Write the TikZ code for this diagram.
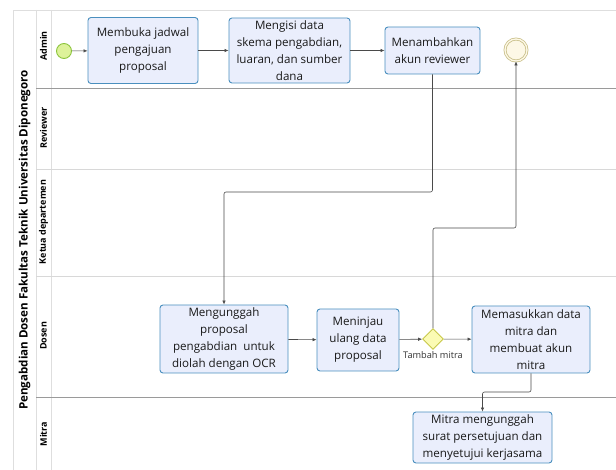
\documentclass[tikz,border=0pt]{standalone}
\usepackage{fontspec}
\setmainfont{Open Sans}
\usetikzlibrary{arrows.meta,shapes.geometric}
\definecolor{taskfill}{HTML}{EAEEFC}
\definecolor{taskborder}{HTML}{4A8FBE}
\definecolor{poolline}{HTML}{DEDEDE}
\definecolor{lanedark}{HTML}{9A9A9A}
\definecolor{lanelight}{HTML}{D8D8D8}
\definecolor{flowcol}{HTML}{4A4A4A}
\definecolor{startfill}{HTML}{DDF29A}
\definecolor{startline}{HTML}{8CC43C}
\definecolor{endfill}{HTML}{FDF8E6}
\definecolor{endline}{HTML}{C9C08A}
\definecolor{gwfill}{HTML}{FBFBB4}
\definecolor{gwline}{HTML}{C8C84A}
\tikzset{
  task/.style={draw=taskborder, fill=taskfill, rounded corners=3pt, line width=0.9pt,
    align=center, inner sep=1pt, text=black!90,
    font=\fontsize{11.6}{17}\selectfont},
  startev/.style={circle, draw=startline, fill=startfill, line width=0.9pt, minimum size=15pt, inner sep=0pt},
  endev/.style={circle, draw=endline, fill=endfill, double=endfill, double distance=1.3pt, line width=0.8pt, minimum size=22pt, inner sep=0pt},
  gateway/.style={diamond, draw=gwline, fill=gwfill, line width=0.9pt, minimum size=21pt, inner sep=0pt},
  flow/.style={draw=flowcol, line width=0.6pt, -{Latex[length=4pt,width=3.5pt]}, rounded corners=2pt},
  lanelabel/.style={rotate=90, font=\bfseries\fontsize{9}{10}\selectfont},
  pooltitle/.style={rotate=90, font=\bfseries\fontsize{11.6}{13}\selectfont},
  gwlabel/.style={font=\fontsize{9.2}{10}\selectfont, text=black!80}
}
\begin{document}
\begin{tikzpicture}[x=1pt,y=-1pt]
\useasboundingbox (0,0) rectangle (616,470);
% pool frame
\draw[poolline, line width=0.8pt] (616,10) -- (13,10) -- (13,470);
\draw[poolline, line width=0.8pt] (36,10) -- (36,470);
\draw[poolline, line width=0.8pt] (51,10) -- (51,470);
% lane dividers
\draw[lanedark, line width=0.8pt] (36,88) -- (616,88);
\draw[lanelight, line width=0.8pt] (36,169) -- (616,169);
\draw[lanelight, line width=0.8pt] (36,276) -- (616,276);
\draw[lanedark, line width=0.8pt] (36,397) -- (616,397);
% titles
\node[pooltitle] (pool) at (24.5,240) {Pengabdian Dosen Fakultas Teknik Universitas Diponegoro};
\node[lanelabel] (lAdmin) at (43.5,46) {Admin};
\node[lanelabel] (lRev) at (43.5,128) {Reviewer};
\node[lanelabel] (lKetua) at (43.5,222) {Ketua departemen};
\node[lanelabel] (lDosen) at (43.5,336) {Dosen};
\node[lanelabel] (lMitra) at (43.5,434) {Mitra};
% events and tasks
\node[startev] (start) at (64,51) {};
\node[task, minimum width=110pt, minimum height=66pt] (t1) at (143,50.5) {Membuka jadwal\\pengajuan\\proposal};
\node[task, minimum width=121pt, minimum height=65pt] (t2) at (289.5,50.5) {Mengisi data\\skema pengabdian,\\luaran, dan sumber\\dana};
\node[task, minimum width=95pt, minimum height=47pt] (t3) at (432.5,50.5) {Menambahkan\\akun reviewer};
\node[endev] (end) at (516,50) {};
\node[task, minimum width=128pt, minimum height=68pt] (t4) at (224,339) {Mengunggah\\proposal\\pengabdian\ \ untuk\\diolah dengan OCR};
\node[task, minimum width=82pt, minimum height=62pt] (t5) at (358,340) {Meninjau\\ulang data\\proposal};
\node[gateway] (gw) at (433,339) {};
\node[gwlabel] (gwl) at (433,355) {Tambah mitra};
\node[task, minimum width=118pt, minimum height=67pt] (t6) at (531,339.5) {Memasukkan data\\mitra dan\\membuat akun\\mitra};
\node[task, minimum width=139pt, minimum height=51pt] (t7) at (482.5,437.5) {Mitra mengunggah\\surat persetujuan dan\\menyetujui kerjasama};
% helper coordinates
\coordinate (k1) at (0,192);
\coordinate (k2) at (0,228);
\coordinate (k3) at (0,392);
% flows
\draw[flow] (start) -- (t1);
\draw[flow] (t1) -- (t2);
\draw[flow] (t2) -- (t3);
\draw[flow] (t3.south) -- (t3.south |- k1) -| (t4.north);
\draw[flow] (t4) -- (t5);
\draw[flow] (t5) -- (gw);
\draw[flow] (gw) -- (t6);
\draw[flow] (gw.north) -- (gw.north |- k2) -| (end.south);
\draw[flow] (t6.south) -- (t6.south |- k3) -| (t7.north);
\end{tikzpicture}
\end{document}
